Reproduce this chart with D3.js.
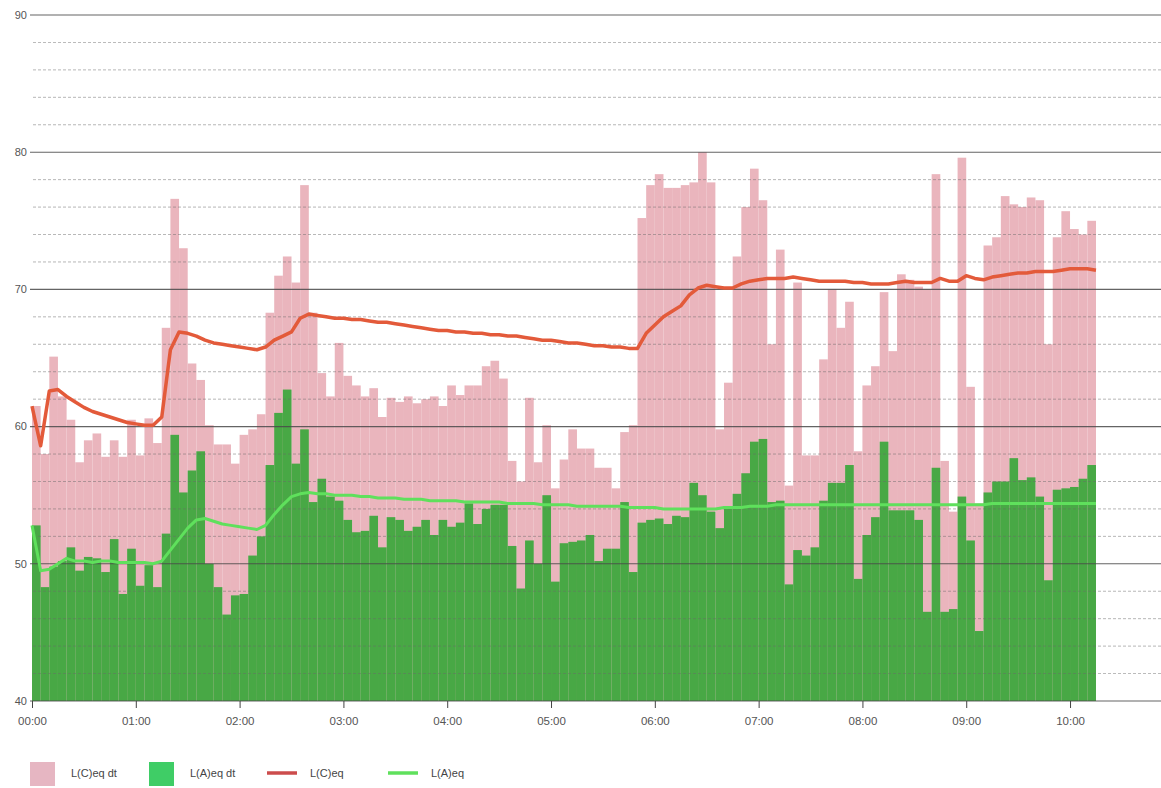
<!DOCTYPE html>
<html>
<head>
<meta charset="utf-8">
<script src="https://cdn.jsdelivr.net/npm/d3@7"></script>
<style>
  body { margin: 0; background: #fff; }
  text { font-family: "Liberation Sans", Arial, sans-serif; }
</style>
</head>
<body>
<div class="chart"></div>
<script>
// 5 minute intervals starting at 00:00
var stepMin = 5;

// L(C)eq per interval (pink bars)
var lcDt = [61.5,58.0,65.1,62.2,60.5,57.4,59.0,59.5,57.8,59.0,57.8,60.5,57.9,60.6,58.8,67.2,76.6,73.0,64.6,63.4,
  60.1,58.7,58.7,57.3,59.4,59.8,60.9,68.3,71.0,72.4,70.5,77.6,68.3,63.9,62.2,66.1,63.7,63.0,62.2,62.8,
  60.7,62.1,61.8,62.2,61.7,62.0,62.2,61.5,63.0,62.3,63.0,63.0,64.4,64.8,63.5,57.5,56.0,62.1,57.4,60.1,
  55.5,57.6,59.8,58.4,58.4,57.0,57.0,55.5,59.6,60.1,75.2,77.6,78.4,77.4,77.4,77.6,77.8,80.0,77.8,59.8,
  63.2,72.4,76.0,78.8,76.5,66.0,72.9,55.7,70.5,57.9,57.9,64.9,70.0,67.2,69.1,58.2,63.0,64.4,69.8,65.5,
  71.1,70.7,70.2,70.0,78.4,57.5,53.8,79.6,62.9,54.4,73.2,73.8,76.8,76.2,76.0,76.7,76.5,66.0,73.8,75.7,
  74.4,74.0,75.0];

// L(A)eq per interval (green bars)
var laDt = [52.8,48.3,49.8,50.2,51.2,49.5,50.5,50.4,49.4,51.8,47.8,51.1,48.4,49.9,48.3,52.2,59.4,55.2,56.8,58.2,
  50.0,48.3,46.3,47.7,47.8,50.6,52.0,57.2,61.0,62.7,57.3,59.8,54.5,56.2,54.9,54.6,53.2,52.3,52.4,53.5,
  51.2,53.4,53.2,52.4,52.7,53.2,52.1,53.2,52.7,53.0,54.4,52.9,54.0,54.3,54.3,51.3,48.2,51.7,50.0,55.0,
  48.7,51.5,51.6,51.7,52.1,50.2,51.1,51.1,54.5,49.4,53.0,53.2,53.3,52.9,53.5,53.4,55.9,55.0,53.8,52.6,
  54.0,55.1,56.6,58.9,59.1,54.5,54.6,48.5,51.0,50.6,51.2,54.6,55.9,55.9,57.2,48.9,52.1,53.4,58.9,53.9,
  53.9,53.9,53.2,46.5,57.0,46.5,46.7,54.9,51.7,45.1,55.2,56.0,56.0,57.7,56.1,56.3,54.9,48.8,55.4,55.5,
  55.6,56.2,57.2];

// running L(C)eq, one value per interval boundary
var lcEq = [61.5,58.6,62.6,62.7,62.2,61.8,61.4,61.1,60.9,60.7,60.5,60.3,60.2,60.1,60.1,60.7,65.6,66.9,66.8,66.6,
  66.3,66.1,66.0,65.9,65.8,65.7,65.6,65.8,66.3,66.6,66.9,67.9,68.2,68.1,68.0,67.9,67.9,67.8,67.8,67.7,
  67.6,67.6,67.5,67.4,67.3,67.2,67.1,67.0,67.0,66.9,66.9,66.8,66.8,66.7,66.7,66.6,66.6,66.5,66.4,66.3,
  66.3,66.2,66.1,66.1,66.0,65.9,65.9,65.8,65.8,65.7,65.7,66.8,67.4,68.0,68.4,68.8,69.6,70.1,70.3,70.2,
  70.1,70.1,70.4,70.6,70.7,70.8,70.8,70.8,70.9,70.8,70.7,70.6,70.6,70.6,70.6,70.5,70.5,70.4,70.4,70.4,
  70.5,70.6,70.5,70.5,70.5,70.8,70.6,70.6,71.0,70.8,70.7,70.9,71.0,71.1,71.2,71.2,71.3,71.3,71.3,71.4,
  71.5,71.5,71.5,71.4];

// running L(A)eq
var laEq = [52.8,49.5,49.6,50.0,50.4,50.2,50.2,50.1,50.2,50.2,50.1,50.1,50.1,50.1,50.0,50.2,51.0,51.8,52.6,53.2,
  53.3,53.1,52.9,52.8,52.7,52.6,52.5,52.8,53.6,54.3,54.9,55.1,55.2,55.1,55.1,55.0,55.0,55.0,54.9,54.9,
  54.8,54.8,54.8,54.7,54.7,54.7,54.6,54.6,54.6,54.6,54.5,54.5,54.5,54.5,54.5,54.4,54.4,54.4,54.4,54.3,
  54.3,54.3,54.3,54.2,54.2,54.2,54.2,54.2,54.2,54.1,54.1,54.1,54.1,54.0,54.0,54.0,54.0,54.0,54.0,54.0,
  54.1,54.1,54.1,54.2,54.2,54.2,54.3,54.3,54.3,54.3,54.3,54.3,54.3,54.3,54.3,54.3,54.3,54.3,54.3,54.3,
  54.3,54.3,54.3,54.3,54.3,54.3,54.3,54.3,54.3,54.3,54.3,54.4,54.4,54.4,54.4,54.4,54.4,54.4,54.4,54.4,
  54.4,54.4,54.4,54.4];

var yTicks = [40, 50, 60, 70, 80, 90];
var legendNames = ["L(C)eq dt", "L(A)eq dt", "L(C)eq", "L(A)eq"];

var width = 1161, height = 788;
var colC = "#eab5bd", colA = "#48a845", colCLine = "#e35a3a", colALine = "#5fe05c";

function toDate(min) {
  return new Date(Date.UTC(2000, 0, 1, 0, min));
}

var x = d3.scaleUtc()
  .domain([toDate(0), toDate(652.5)])
  .range([32, 1160]);

var y = d3.scaleLinear()
  .domain([40, 90])
  .range([701, 15]);

var svg = d3.select(".chart")
  .append("svg")
  .attr("width", width)
  .attr("height", height);

// bars: pink first, green on top
svg.append("g")
  .selectAll("rect")
  .data(lcDt)
  .enter()
  .append("rect")
  .attr("x", function (d, i) { return x(toDate(i * stepMin)); })
  .attr("width", function (d, i) { return x(toDate((i + 1) * stepMin)) - x(toDate(i * stepMin)); })
  .attr("y", function (d) { return y(d); })
  .attr("height", function (d) { return y(40) - y(d); })
  .style("fill", colC);

svg.append("g")
  .selectAll("rect")
  .data(laDt)
  .enter()
  .append("rect")
  .attr("x", function (d, i) { return x(toDate(i * stepMin)); })
  .attr("width", function (d, i) { return x(toDate((i + 1) * stepMin)) - x(toDate(i * stepMin)); })
  .attr("y", function (d) { return y(d); })
  .attr("height", function (d) { return y(40) - y(d); })
  .style("fill", colA);

// horizontal grid every 2 dB, drawn over the bars
var gridVals = d3.range(40, 91, 2);
svg.append("g")
  .selectAll("line")
  .data(gridVals)
  .enter()
  .append("line")
  .attr("x1", function (d) { return d % 10 == 0 ? 30 : 33; })
  .attr("x2", 1161)
  .attr("y1", function (d) { return y(d); })
  .attr("y2", function (d) { return y(d); })
  .style("stroke", function (d) { return d % 10 == 0 ? "#4a4a4a" : "#6a6a6a"; })
  .style("stroke-width", function (d) { return d % 10 == 0 ? 1.1 : 0.8; })
  .style("stroke-dasharray", function (d) { return d % 10 == 0 ? null : "3,2"; })
  .style("opacity", function (d) { return d % 10 == 0 ? 0.85 : 0.6; });

// y labels
svg.append("g")
  .selectAll("text")
  .data(yTicks)
  .enter()
  .append("text")
  .attr("x", 27)
  .attr("y", function (d) { return y(d); })
  .attr("dy", "0.35em")
  .style("text-anchor", "end")
  .style("font-size", "11px")
  .style("fill", "#555")
  .text(function (d) { return d; });

// x axis
var xAxis = svg.append("g")
  .attr("transform", "translate(0," + y(40) + ")")
  .call(d3.axisBottom(x)
    .ticks(d3.utcHour.every(1))
    .tickFormat(d3.utcFormat("%H:%M"))
    .tickSize(7)
    .tickPadding(9));
xAxis.select(".domain").remove();
xAxis.selectAll(".tick line").style("stroke", "#444");
xAxis.selectAll(".tick text")
  .style("font-family", "Liberation Sans, Arial, sans-serif")
  .style("font-size", "11.5px")
  .style("fill", "#555");

// running Leq lines, at interval boundaries
var lineC = d3.line()
  .x(function (d, i) { return x(toDate(i * stepMin)); })
  .y(function (d) { return y(d); });

svg.append("path")
  .datum(lcEq)
  .attr("d", lineC)
  .style("fill", "none")
  .style("stroke", colCLine)
  .style("stroke-width", 3.5)
  .style("stroke-linejoin", "round");

svg.append("path")
  .datum(laEq)
  .attr("d", lineC)
  .style("fill", "none")
  .style("stroke", colALine)
  .style("stroke-width", 3)
  .style("stroke-linejoin", "round");

// legend
var legX = [30, 149, 267, 388];
var legend = svg.append("g");
legendNames.forEach(function (name, i) {
  var g = legend.append("g").attr("transform", "translate(" + legX[i] + ",773)");
  if (i < 2) {
    g.append("rect")
      .attr("x", 0).attr("y", -11)
      .attr("width", 25).attr("height", 24)
      .style("fill", i == 0 ? "#e6b6c2" : "#3fcd66");
    g.append("text")
      .attr("x", 41).attr("y", 0).attr("dy", "0.35em")
      .style("font-size", "11px").style("fill", "#444")
      .text(name);
  } else {
    g.append("line")
      .attr("x1", 0).attr("x2", 30)
      .attr("y1", 0).attr("y2", 0)
      .style("stroke", i == 2 ? "#cc4c4c" : colALine)
      .style("stroke-width", 3.5);
    g.append("text")
      .attr("x", 43).attr("y", 0).attr("dy", "0.35em")
      .style("font-size", "11px").style("fill", "#444")
      .text(name);
  }
});
</script>
</body>
</html>
